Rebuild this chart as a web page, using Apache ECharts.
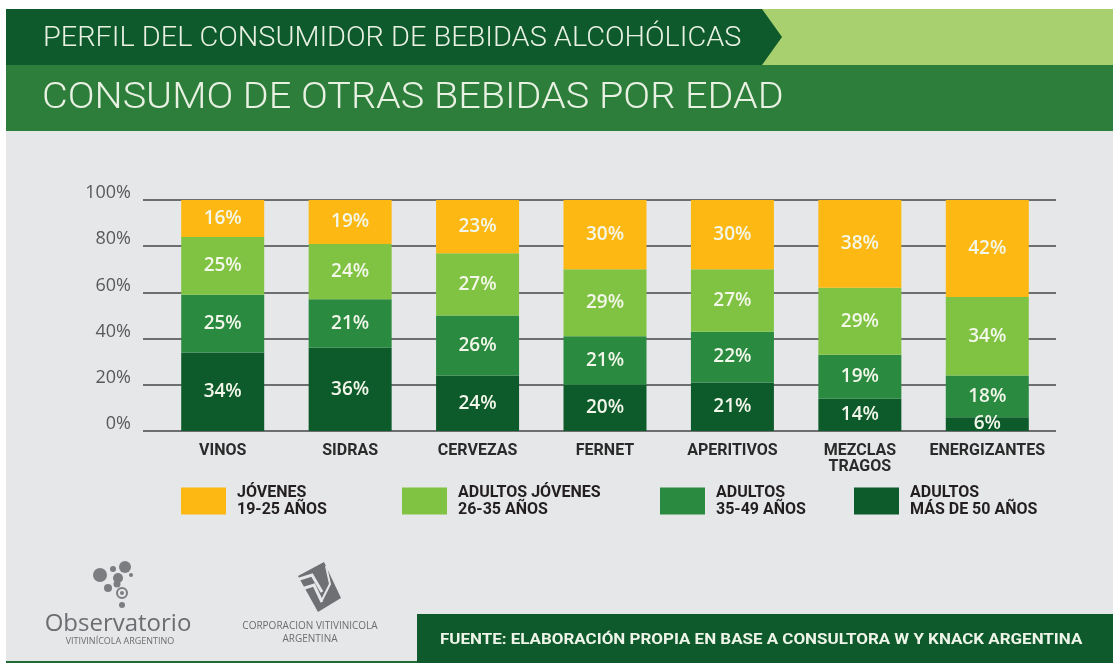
<!DOCTYPE html>
<html>
<head>
<meta charset="utf-8">
<title>Consumo de otras bebidas por edad</title>
<script src="https://cdn.jsdelivr.net/npm/echarts@6/dist/echarts.min.js"></script>
<style>
	html, body { margin: 0; padding: 0; background: #fff; }
	#chart { width: 1113px; height: 666px; }
</style>
</head>
<body>
<div id="chart"></div>
<script>
	//categorías del eje x
	var categorias = ['VINOS', 'SIDRAS', 'CERVEZAS', 'FERNET', 'APERITIVOS', 'MEZCLAS\nTRAGOS', 'ENERGIZANTES'];

	//grupos de edad, de abajo hacia arriba
	var grupos = ['ADULTOS\nMÁS DE 50 AÑOS', 'ADULTOS\n35-49 AÑOS', 'ADULTOS JÓVENES\n26-35 AÑOS', 'JÓVENES\n19-25 AÑOS'];

	//porcentajes por grupo
	var mas50 = [34, 36, 24, 20, 21, 14, 6];
	var de35a49 = [25, 21, 26, 21, 22, 19, 18];
	var de26a35 = [25, 24, 27, 29, 27, 29, 34];
	var de19a25 = [16, 19, 23, 30, 30, 38, 42];

	//eje y
	var ejeMin = 0, ejeMax = 100, ejePaso = 20;

	var valores = [mas50, de35a49, de26a35, de19a25];
	var colores = ['#0d5a2b', '#298a40', '#80c342', '#fdb814'];
	var leyendaX = [854, 660, 402, 181];

	var gris = '#7b7d80';

	var series = grupos.map(function (nombre, i) {
		return {
			name: nombre,
			type: 'bar',
			stack: 'total',
			xAxisIndex: 1,
			yAxisIndex: 1,
			barWidth: 83,
			itemStyle: { color: colores[i] },
			label: {
				show: true,
				position: 'inside',
				formatter: '{c}%',
				color: '#f2f7ea',
				fontFamily: 'Open Sans',
				fontWeight: 600,
				fontSize: 19
			},
			data: valores[i]
		};
	});

	//una leyenda por grupo, para colocarlas como en el original
	var leyendas = grupos.map(function (nombre, i) {
		return {
			data: [nombre],
			left: leyendaX[i],
			top: 484,
			padding: 0,
			itemWidth: 45,
			itemHeight: 27,
			icon: 'rect',
			selectedMode: false,
			textStyle: {
				color: '#231f20',
				fontFamily: 'Roboto',
				fontWeight: 'bold',
				fontSize: 16,
				lineHeight: 17,
				padding: [0, 0, 0, 6]
			}
		};
	});

	//texto con escala horizontal, para imitar la tipografía ancha del original
	function texto(t, x, y, font, escala, color) {
		return {
			type: 'text',
			x: x,
			y: y,
			scaleX: escala,
			style: {
				text: t,
				x: 0,
				y: 0,
				fill: color,
				font: font,
				textVerticalAlign: 'middle'
			}
		};
	}

	var graficos = [
		//márgenes blancos
		{ type: 'rect', shape: { x: 0, y: 0, width: 1113, height: 9 }, style: { fill: '#fff' } },
		{ type: 'rect', shape: { x: 0, y: 0, width: 6, height: 666 }, style: { fill: '#fff' } },
		{ type: 'rect', shape: { x: 0, y: 663, width: 1113, height: 3 }, style: { fill: '#fff' } },
		//cabecera
		{ type: 'rect', shape: { x: 6, y: 9, width: 1107, height: 56 }, style: { fill: '#a9d06e' } },
		{ type: 'polygon', shape: { points: [[6, 9], [762, 9], [782, 37], [762, 65], [6, 65]] }, style: { fill: '#0e5a2c' } },
		{ type: 'rect', shape: { x: 6, y: 65, width: 1107, height: 66 }, style: { fill: '#2c7e3a' } },
		texto('PERFIL DEL CONSUMIDOR DE BEBIDAS ALCOHÓLICAS', 43, 39, '300 27px Roboto', 1.07, '#e9f1e3'),
		texto('CONSUMO DE OTRAS BEBIDAS POR EDAD', 42, 99, '300 37px Roboto', 1.07, '#e9f1e3'),
		//pie
		{ type: 'rect', shape: { x: 6, y: 661, width: 1107, height: 2 }, style: { fill: '#1f6b33' } },
		{ type: 'rect', shape: { x: 417, y: 614, width: 696, height: 49 }, style: { fill: '#0e5a2c' } },
		texto('FUENTE: ELABORACIÓN PROPIA EN BASE A CONSULTORA W Y KNACK ARGENTINA', 440, 640, 'bold 15px Roboto', 1.13, '#eef4e8'),
		//logo observatorio
		{ type: 'circle', shape: { cx: 100, cy: 575, r: 7 }, style: { fill: gris } },
		{ type: 'circle', shape: { cx: 125, cy: 567, r: 6 }, style: { fill: gris } },
		{ type: 'circle', shape: { cx: 113, cy: 569, r: 3 }, style: { fill: gris } },
		{ type: 'circle', shape: { cx: 118, cy: 578, r: 5 }, style: { fill: gris } },
		{ type: 'circle', shape: { cx: 131, cy: 575, r: 2 }, style: { fill: gris } },
		{ type: 'circle', shape: { cx: 117, cy: 584, r: 3.5 }, style: { fill: gris } },
		{ type: 'circle', shape: { cx: 108, cy: 588, r: 4 }, style: { fill: gris } },
		{ type: 'circle', shape: { cx: 122, cy: 593, r: 5 }, style: { fill: 'none', stroke: gris, lineWidth: 2 } },
		{ type: 'circle', shape: { cx: 122, cy: 593, r: 2 }, style: { fill: gris } },
		{ type: 'circle', shape: { cx: 122, cy: 605, r: 3 }, style: { fill: gris } },
		{
			type: 'text',
			style: { text: 'Observatorio', x: 118, y: 624, fill: '#6b6d70', font: '24px "Open Sans"', textAlign: 'center', textVerticalAlign: 'middle' }
		},
		{
			type: 'text',
			style: { text: 'VITIVINÍCOLA ARGENTINO', x: 120, y: 641, fill: '#6b6d70', font: '9px "Open Sans"', textAlign: 'center', textVerticalAlign: 'middle' }
		},
		//logo corporación
		{ type: 'polygon', shape: { points: [[298, 576], [324, 562], [341, 598], [318, 612]] }, style: { fill: '#6e7073' } },
		{ type: 'polyline', shape: { points: [[290, 582], [312, 575], [322, 592]] }, style: { stroke: '#e6e7e8', lineWidth: 3, fill: 'none' } },
		{ type: 'polyline', shape: { points: [[292, 592], [314, 585], [322, 602]] }, style: { stroke: '#e6e7e8', lineWidth: 3, fill: 'none' } },
		{ type: 'polyline', shape: { points: [[326, 566], [330, 584], [322, 600]] }, style: { stroke: '#e6e7e8', lineWidth: 2, fill: 'none' } },
		{
			type: 'text',
			style: { text: 'CORPORACION VITIVINICOLA', x: 310, y: 626, fill: '#6b6d70', font: '10px "Open Sans"', textAlign: 'center', textVerticalAlign: 'middle' }
		},
		{
			type: 'text',
			style: { text: 'ARGENTINA', x: 310, y: 639, fill: '#6b6d70', font: '10px "Open Sans"', textAlign: 'center', textVerticalAlign: 'middle' }
		}
	];

	var chart = echarts.init(document.getElementById('chart'), null, { renderer: 'canvas' });

	chart.setOption({
		backgroundColor: '#e6e7e8',
		animation: false,
		textStyle: { fontFamily: 'Open Sans' },
		graphic: graficos,
		legend: leyendas,
		grid: [
			//líneas de referencia, algo más anchas que las barras
			{ left: 143, right: 57, top: 200, bottom: 235 },
			//barras
			{ left: 159, right: 62, top: 200, bottom: 235 }
		],
		xAxis: [
			{ type: 'value', gridIndex: 0, show: false },
			{
				type: 'category',
				gridIndex: 1,
				data: categorias,
				axisLine: { show: false },
				axisTick: { show: false },
				axisLabel: {
					interval: 0,
					margin: 12,
					color: '#2a2a2a',
					fontFamily: 'Roboto',
					fontWeight: 'bold',
					fontSize: 16,
					lineHeight: 16
				}
			}
		],
		yAxis: [
			{
				type: 'value',
				gridIndex: 0,
				min: ejeMin,
				max: ejeMax,
				interval: ejePaso,
				axisLine: { show: false },
				axisTick: { show: false },
				splitLine: { lineStyle: { color: '#6d6e70', width: 2 } },
				axisLabel: {
					formatter: '{value}%',
					margin: 12,
					color: '#58595b',
					fontFamily: 'Open Sans',
					fontSize: 18,
					verticalAlign: 'bottom',
					lineHeight: 14
				}
			},
			{
				type: 'value',
				gridIndex: 1,
				min: ejeMin,
				max: ejeMax,
				interval: ejePaso,
				show: false,
				splitLine: { show: false }
			}
		],
		series: series
	});
</script>
</body>
</html>
